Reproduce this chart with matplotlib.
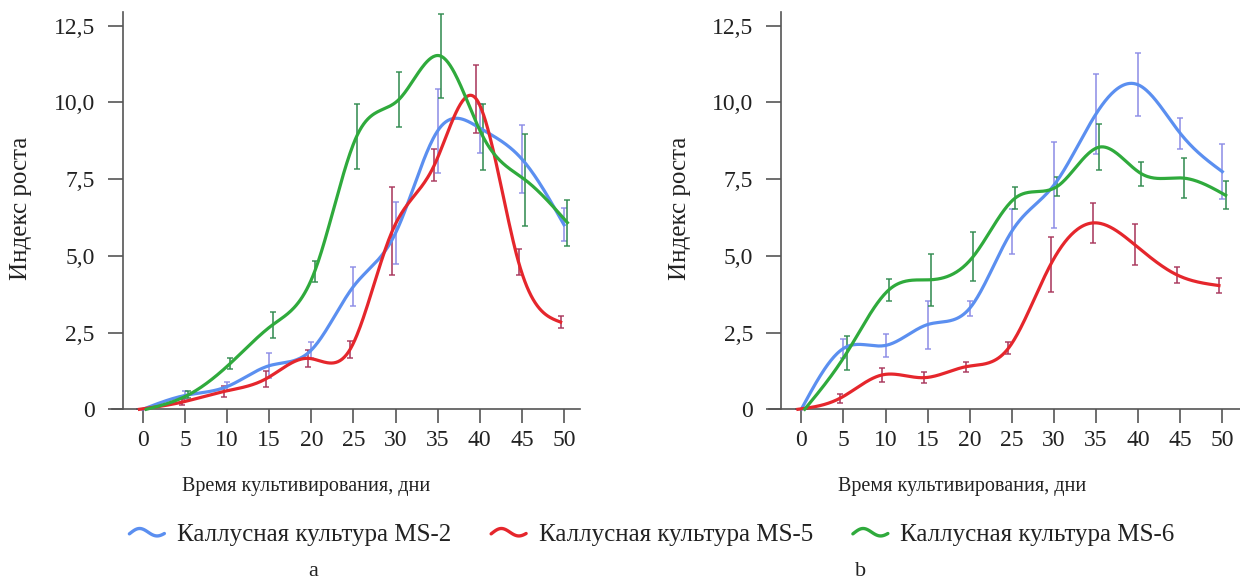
import numpy as np
import matplotlib
matplotlib.use("Agg")
import matplotlib.pyplot as plt
from matplotlib.lines import Line2D
from matplotlib.legend_handler import HandlerBase

plt.rcParams['font.family'] = ['Liberation Serif', 'DejaVu Serif']

days = [0, 5, 10, 15, 20, 25, 30, 35, 40, 45, 50]
series_names = ["Каллусная культура MS-2", "Каллусная культура MS-5", "Каллусная культура MS-6"]

# panel a
a_ms2 = [0, 0.45, 0.74, 1.42, 1.93, 4.0, 5.74, 9.07, 9.16, 8.15, 6.01]
a_ms2_err = [0, 0.13, 0.14, 0.40, 0.25, 0.62, 1.02, 1.37, 0.80, 1.12, 0.54]
a_ms5 = [0, 0.23, 0.58, 0.99, 1.66, 1.95, 5.8, 7.95, 10.1, 4.8, 2.84]
a_ms5_err = [0, 0.10, 0.17, 0.25, 0.27, 0.28, 1.44, 0.53, 1.10, 0.42, 0.19]
a_ms6 = [0, 0.47, 1.5, 2.75, 4.49, 8.9, 10.09, 11.5, 8.87, 7.47, 6.08]
a_ms6_err = [0, 0.11, 0.18, 0.43, 0.34, 1.06, 0.90, 1.36, 1.09, 1.50, 0.75]

# panel b
b_ms2 = [0, 1.98, 2.08, 2.76, 3.29, 5.8, 7.3, 9.62, 10.57, 8.99, 7.74]
b_ms2_err = [0, 0.32, 0.37, 0.78, 0.24, 0.73, 1.40, 1.29, 1.02, 0.50, 0.89]
b_ms5 = [0, 0.36, 1.12, 1.03, 1.39, 1.99, 4.71, 6.07, 5.36, 4.38, 4.03]
b_ms5_err = [0, 0.14, 0.22, 0.17, 0.16, 0.19, 0.90, 0.65, 0.67, 0.27, 0.25]
b_ms6 = [0, 1.84, 3.89, 4.22, 4.97, 6.88, 7.26, 8.54, 7.67, 7.53, 6.97]
b_ms6_err = [0, 0.55, 0.35, 0.84, 0.80, 0.35, 0.32, 0.76, 0.39, 0.65, 0.46]

yticks = [0, 2.5, 5.0, 7.5, 10.0, 12.5]
ytick_labels = ["0", "2,5", "5,0", "7,5", "10,0", "12,5"]

line_colors = ["#5b8ff0", "#e5262c", "#2faa3c"]
err_colors = ["#8c8ce6", "#a8345a", "#2e8a4e"]
x_shift = [0.0, -0.4, 0.4]
text_color = "#222222"


def natural_spline(x, y, xs):
	x = np.asarray(x, float)
	y = np.asarray(y, float)
	n = len(x)
	h = np.diff(x)
	A = np.zeros((n, n))
	r = np.zeros(n)
	A[0, 0] = 1
	A[-1, -1] = 1
	for i in range(1, n - 1):
		A[i, i - 1] = h[i - 1]
		A[i, i] = 2 * (h[i - 1] + h[i])
		A[i, i + 1] = h[i]
		r[i] = 6 * ((y[i + 1] - y[i]) / h[i] - (y[i] - y[i - 1]) / h[i - 1])
	M = np.linalg.solve(A, r)
	idx = np.clip(np.searchsorted(x, xs) - 1, 0, n - 2)
	x0, x1 = x[idx], x[idx + 1]
	hh = x1 - x0
	t0 = x1 - xs
	t1 = xs - x0
	return (M[idx] * t0**3 / (6 * hh) + M[idx + 1] * t1**3 / (6 * hh)
		+ (y[idx] / hh - M[idx] * hh / 6) * t0
		+ (y[idx + 1] / hh - M[idx + 1] * hh / 6) * t1)


class WaveHandler(HandlerBase):
	# small "~" shaped legend key
	def create_artists(self, legend, orig_handle, xdescent, ydescent, width, height, fontsize, trans):
		t = np.linspace(0, 1, 40)
		xx = -xdescent + width * t
		yy = -ydescent + height * (0.5 + 0.25 * np.sin(2 * np.pi * (t - 0.05)) * np.exp(-0.3 * t))
		ln = Line2D(xx, yy, color=orig_handle.get_color(), lw=2.4, solid_capstyle="round", transform=trans)
		return [ln]


def draw_panel(ax, vals, errs, xlim):
	for k in range(3):
		x = np.array(days, float) + x_shift[k]
		xs = np.linspace(x[0], x[-1], 400)
		ax.errorbar(x, vals[k], yerr=errs[k], fmt="none", ecolor=err_colors[k],
			elinewidth=1.3, capsize=2, capthick=1.2, alpha=0.85, clip_on=False, zorder=2)
		ax.plot(xs, natural_spline(x, vals[k], xs), color=line_colors[k], lw=2.3,
			clip_on=False, zorder=3, label=series_names[k])
	ax.set_xlim(*xlim)
	ax.set_ylim(0, 12.95)
	ax.set_xticks(days)
	ax.set_yticks(yticks)
	ax.set_yticklabels(ytick_labels)
	ax.spines["top"].set_visible(False)
	ax.spines["right"].set_visible(False)
	ax.spines["left"].set_position(("data", -2.4))
	for s in ("left", "bottom"):
		ax.spines[s].set_color("#555555")
		ax.spines[s].set_linewidth(1.2)
	ax.tick_params(axis="y", direction="out", length=11, width=1.2, color="#555555",
		labelsize=17, pad=9, labelcolor=text_color)
	ax.tick_params(axis="x", direction="out", length=10, width=1.2, color="#555555",
		labelsize=17, pad=5, labelcolor=text_color)


fig = plt.figure(figsize=(12.4, 5.81), dpi=100)
ax1 = fig.add_axes([111.7 / 1240, 171.7 / 581, 468.3 / 1240, 397.6 / 581])
ax2 = fig.add_axes([769.3 / 1240, 171.7 / 581, 470.7 / 1240, 397.6 / 581])

draw_panel(ax1, [a_ms2, a_ms5, a_ms6], [a_ms2_err, a_ms5_err, a_ms6_err], (-3.7, 51.9))
draw_panel(ax2, [b_ms2, b_ms5, b_ms6], [b_ms2_err, b_ms5_err, b_ms6_err], (-3.8, 52.1))

for xc in (306, 962):
	fig.text(xc / 1240, 1 - 487 / 581, "Время культивирования, дни", ha="center", va="center",
		fontsize=14.5, color=text_color)
for xc in (21, 680):
	fig.text(xc / 1240, 1 - 208 / 581, "Индекс роста", ha="center", va="center",
		rotation=90, fontsize=18, color=text_color)

handles, labels = ax1.get_legend_handles_labels()
fig.legend(handles, labels, loc="center", bbox_to_anchor=(652 / 1240, 1 - 535 / 581), ncol=3,
	frameon=False, fontsize=18, handlelength=1.4, handletextpad=0.5, columnspacing=1.6,
	handler_map={Line2D: WaveHandler()}, labelcolor=text_color)

fig.text(313 / 1240, 1 - 571 / 581, "a", ha="center", va="center", fontsize=16, color=text_color)
fig.text(861 / 1240, 1 - 571 / 581, "b", ha="center", va="center", fontsize=16, color=text_color)

fig.savefig("out.png", dpi=100)
